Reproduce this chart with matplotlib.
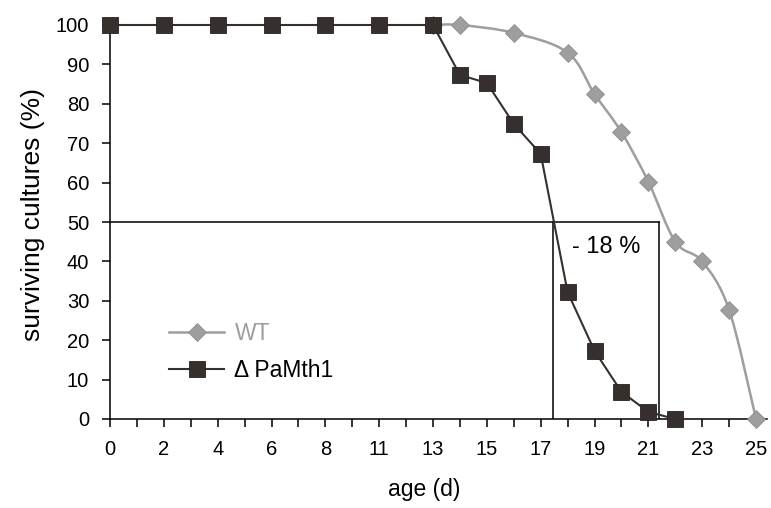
import numpy as np
from matplotlib import pyplot as plt
from matplotlib.path import Path
from matplotlib.patches import PathPatch

# category axis of the original chart (one slot per day, one day is missing)
days = [0, 1, 2, 3, 4, 5, 6, 7, 8, 9, 11, 12, 13, 14, 15, 16, 17, 18, 19, 20, 21, 22, 23, 24, 25]

mut_days = [0, 2, 4, 6, 8, 11, 13, 14, 15, 16, 17, 18, 19, 20, 21, 22]
mut_surv = [100, 100, 100, 100, 100, 100, 100, 87.3, 85.3, 74.9, 67.3, 32.2, 17.3, 6.9, 1.8, 0]

wt_days = [13, 14, 16, 18, 19, 20, 21, 22, 23, 24, 25]
wt_surv = [100, 100, 98, 93, 82.5, 72.8, 60.2, 45, 40, 27.7, 0]

median_age = {'WT': 21.4, 'mut': 17.45}   # age at 50 % survival
reduction_text = '- 18 %'

wt_color = '#9e9e9e'
mut_color = '#35302d'

plt.rcParams['font.family'] = ['Liberation Sans', 'DejaVu Sans']


def pos(d):  # day -> slot on the category axis
    return np.interp(d, days, np.arange(len(days)))


def smooth_path(x, y):  # Excel-like smoothed line through the points
    pts = np.column_stack([x, y])
    ext = np.vstack([pts[0], pts, pts[-1]])
    verts = [pts[0]]
    codes = [Path.MOVETO]
    for i in range(len(pts) - 1):
        p0, p1, p2, p3 = ext[i], ext[i + 1], ext[i + 2], ext[i + 3]
        verts += [p1 + (p2 - p0) / 6, p2 - (p3 - p1) / 6, p2]
        codes += [Path.CURVE4] * 3
    return Path(verts, codes)


fig = plt.figure(figsize=(7.71, 5.08), dpi=100)
ax = fig.add_axes([110 / 771, 1 - 419 / 508, 656.8 / 771, 394 / 508])

wx = pos(wt_days)
ax.add_patch(PathPatch(smooth_path(wx, wt_surv), facecolor='none', edgecolor=wt_color,
                       lw=1.8, zorder=3, clip_on=False))
ax.plot(wx, wt_surv, ls='none', marker='D', ms=9.2, color=wt_color, mec='#8f8f8f', mew=0.6,
        zorder=4, clip_on=False)
ax.plot([], [], '-D', color=wt_color, ms=9.2, lw=1.8, mec='#8f8f8f', mew=0.6, label='WT')

mx = pos(mut_days)
ax.plot(mx, mut_surv, '-s', color=mut_color, lw=1.5, ms=12, mec='#262220', mew=0.6,
        zorder=5, clip_on=False, label='Δ PaMth1')

# 50 % lines
xw = pos(median_age['WT'])
xm = pos(median_age['mut'])
ax.plot([0, xw], [50, 50], color='black', lw=1.1, zorder=2)
ax.plot([xm, xm], [0, 50], color='black', lw=1.1, zorder=2)
ax.plot([xw, xw], [0, 50], color='black', lw=1.1, zorder=2)
ax.text((xm + xw) / 2, 43.6, reduction_text, ha='center', va='center', fontsize=17)

ax.set_xlim(0, 24.4)
ax.set_ylim(0, 100)
ax.set_xticks(np.arange(len(days)))
ax.set_xticklabels([str(d) if i % 2 == 0 else '' for i, d in enumerate(days)])
ax.set_yticks(np.arange(0, 101, 10))
ax.tick_params(axis='both', direction='out', length=6, width=1.1, labelsize=14.5)
ax.tick_params(axis='x', pad=9)
ax.tick_params(axis='y', pad=9)
for s in ['top', 'right']:
    ax.spines[s].set_visible(False)
for s in ['left', 'bottom']:
    ax.spines[s].set_linewidth(1.1)

ax.set_xlabel('age (d)', fontsize=16.5)
ax.xaxis.set_label_coords(0.478, -0.150)
ax.set_ylabel('surviving cultures (%)', fontsize=19)
ax.yaxis.set_label_coords(-0.099, 0.518)

leg = ax.legend(loc='center left', bbox_to_anchor=(0.09, 0.17), frameon=False, fontsize=16.5,
                handlelength=2.4, handletextpad=0.45, labelspacing=0.65, borderpad=0,
                borderaxespad=0, labelcolor=[wt_color, 'black'])

fig.savefig('out.png', dpi=100)
